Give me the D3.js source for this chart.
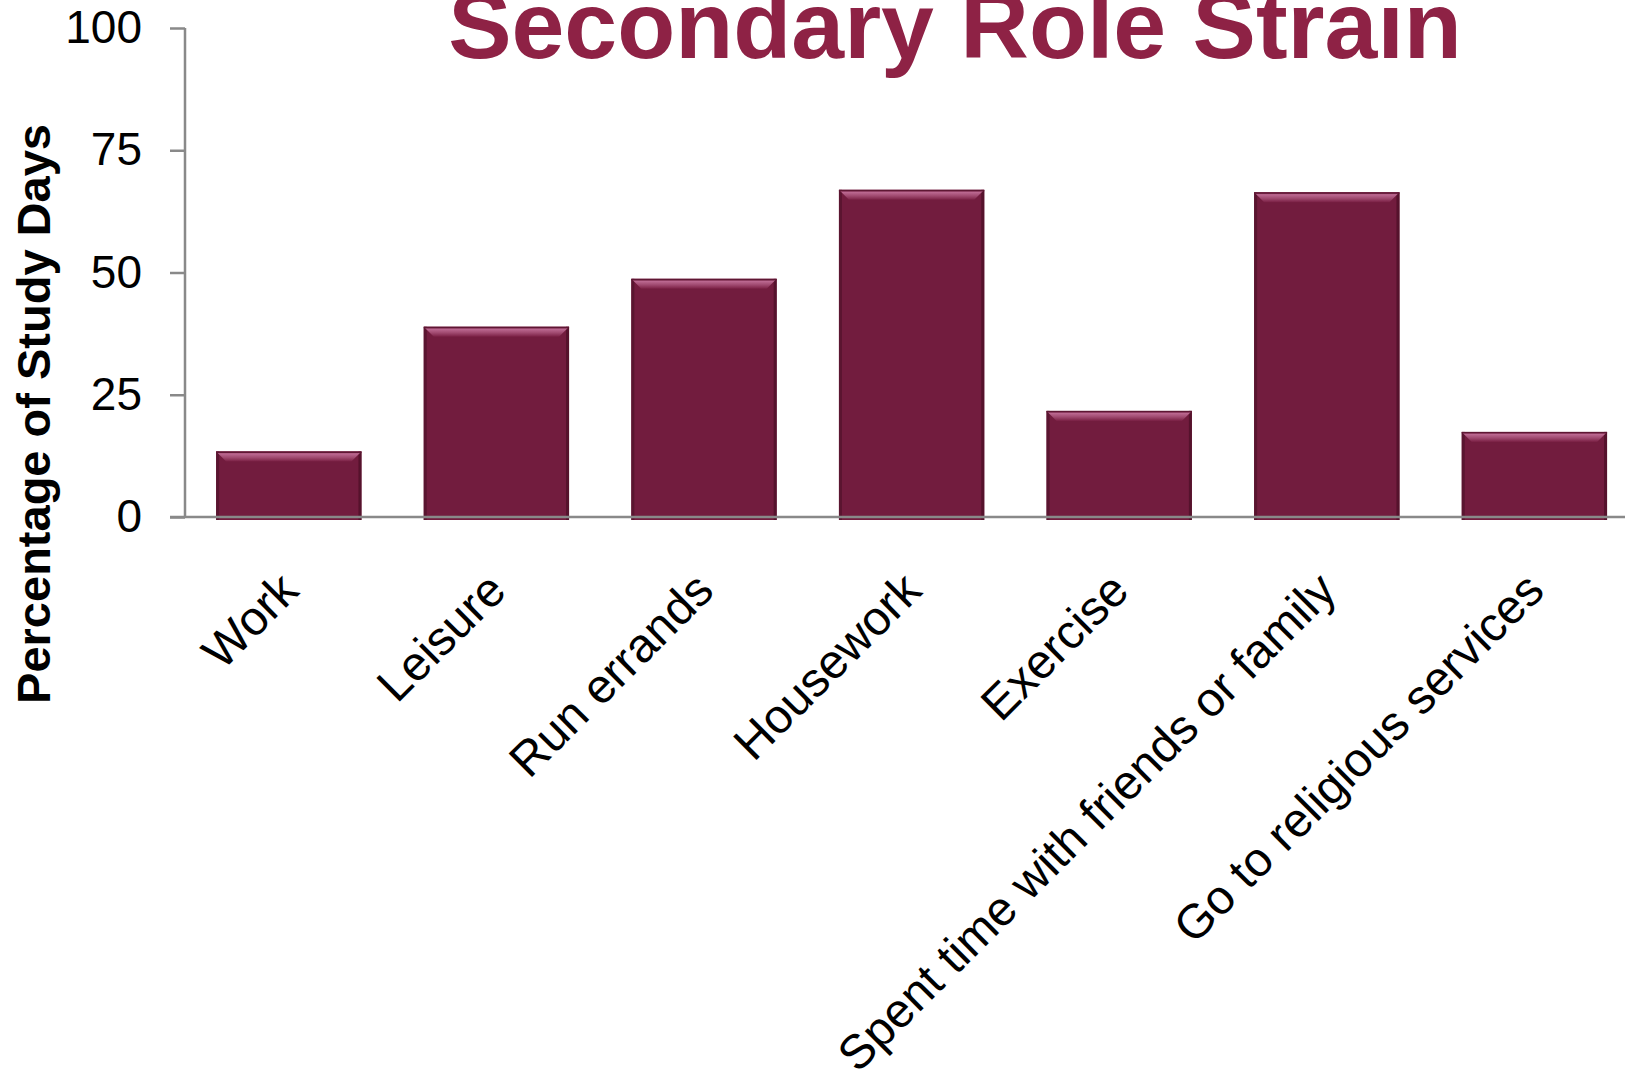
<!DOCTYPE html>
<html>
<head>
<meta charset="utf-8">
<title>Secondary Role Strain</title>
<script src="https://d3js.org/d3.v7.min.js"></script>
<style>
  body { margin: 0; background: #fff; }
  svg { display: block; font-family: "Liberation Sans", Arial, sans-serif; }
</style>
</head>
<body>
<div id="chart"></div>
<script>
// data
var categories = ["Work", "Leisure", "Run errands", "Housework", "Exercise",
                  "Spent time with friends or family", "Go to religious services"];
var values = [13.4, 38.9, 48.7, 66.9, 21.7, 66.4, 17.4];
var yTicks = [0, 25, 50, 75, 100];

var W = 1625, H = 1069;
var axisX = 185, y0 = 517, y100 = 28;

var svg = d3.select("#chart").append("svg")
  .attr("width", W).attr("height", H);

var defs = svg.append("defs");
var g1 = defs.append("linearGradient").attr("id", "topBevel")
  .attr("x1", 0).attr("y1", 0).attr("x2", 0).attr("y2", 1);
g1.append("stop").attr("offset", "0%").attr("stop-color", "#8d3058");
g1.append("stop").attr("offset", "25%").attr("stop-color", "#bb6890");
g1.append("stop").attr("offset", "60%").attr("stop-color", "#a04a70");
g1.append("stop").attr("offset", "100%").attr("stop-color", "#7a2044");

var x = d3.scaleBand()
  .domain(categories)
  .range([axisX, axisX + 7 * 207.6])
  .paddingInner(0.3)
  .paddingOuter(0.15);

var y = d3.scaleLinear()
  .domain([0, 100])
  .range([y0, y100]);

// title (cut at the top edge, as in the original slide)
svg.append("text")
  .attr("x", 955).attr("y", 58)
  .attr("text-anchor", "middle")
  .style("font-size", "95px")
  .style("font-weight", "bold")
  .style("fill", "#8e2245")
  .text("Secondary Role Strain");

// bars
var bars = svg.selectAll(".bar")
  .data(values)
  .enter().append("g")
  .attr("class", "bar");

var bw = x.bandwidth();
bars.append("rect")
  .attr("x", function(d, i) { return x(categories[i]); })
  .attr("y", function(d) { return y(d); })
  .attr("width", bw)
  .attr("height", function(d) { return y0 - y(d) + 3; })
  .style("fill", "#721c3e");

// dark side edges
bars.append("rect")
  .attr("x", function(d, i) { return x(categories[i]); })
  .attr("y", function(d) { return y(d); })
  .attr("width", 3)
  .attr("height", function(d) { return y0 - y(d) + 3; })
  .style("fill", "#5a1530");
bars.append("rect")
  .attr("x", function(d, i) { return x(categories[i]) + bw - 3; })
  .attr("y", function(d) { return y(d); })
  .attr("width", 3)
  .attr("height", function(d) { return y0 - y(d) + 3; })
  .style("fill", "#55122c");

// top bevel
bars.append("path")
  .attr("d", function(d, i) {
    var l = x(categories[i]), t = y(d);
    return "M" + l + "," + t + "L" + (l + bw) + "," + t +
      "L" + (l + bw - 10) + "," + (t + 10) + "L" + (l + 10) + "," + (t + 10) + "Z";
  })
  .style("fill", "url(#topBevel)");
bars.append("rect")
  .attr("x", function(d, i) { return x(categories[i]); })
  .attr("y", function(d) { return y(d); })
  .attr("width", bw).attr("height", 1.5)
  .style("fill", "#5e1733");

// y axis
var yAxis = svg.append("g")
  .attr("transform", "translate(" + axisX + ",0)")
  .call(d3.axisLeft(y).tickValues(yTicks).tickSize(15).tickPadding(28));
yAxis.select(".domain").attr("stroke", "#898989").attr("stroke-width", 2.5)
  .attr("d", "M0," + y100 + "V" + y0);
yAxis.selectAll(".tick line").attr("stroke", "#898989").attr("stroke-width", 2.5);
yAxis.selectAll(".tick text")
  .style("font-size", "46px")
  .style("font-family", "'Liberation Sans', Arial, sans-serif")
  .attr("fill", "#000");

// x axis
var xAxis = svg.append("g")
  .attr("transform", "translate(0," + y0 + ")")
  .call(d3.axisBottom(x).tickSize(0).tickPadding(0));
xAxis.select(".domain").attr("stroke", "#898989").attr("stroke-width", 2.5)
  .attr("d", "M" + (axisX - 15) + ",0H" + W);
xAxis.selectAll(".tick text")
  .style("font-size", "48px")
  .style("font-family", "'Liberation Sans', Arial, sans-serif")
  .attr("fill", "#000")
  .attr("text-anchor", "end")
  .attr("dy", 0)
  .attr("transform", "translate(12,76) rotate(-45)");

// y label
svg.append("text")
  .attr("transform", "translate(50,414) rotate(-90)")
  .attr("text-anchor", "middle")
  .style("font-size", "47px")
  .style("font-weight", "bold")
  .text("Percentage of Study Days");
</script>
</body>
</html>
